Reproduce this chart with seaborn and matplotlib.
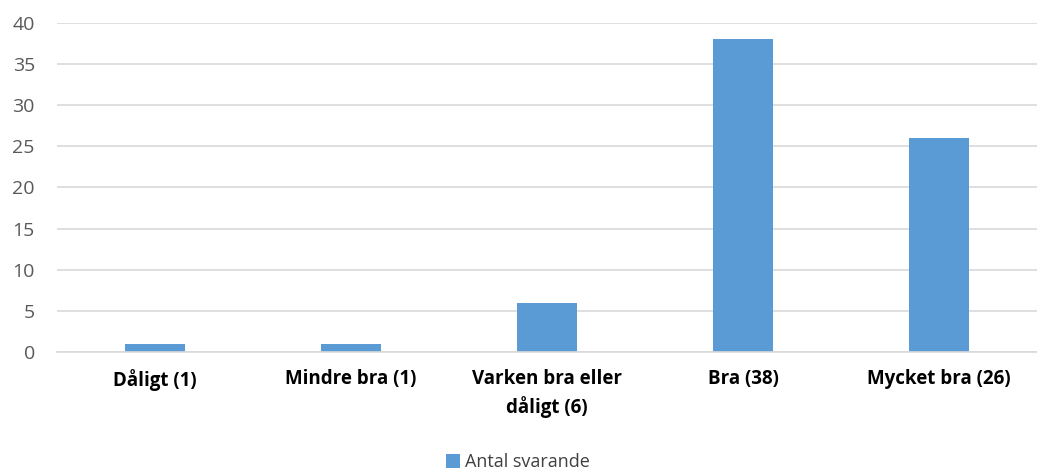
import matplotlib
matplotlib.use('Agg')
import matplotlib.pyplot as plt
import seaborn as sb
import pandas as pd

categories = ["Dåligt (1)", "Mindre bra (1)", "Varken bra eller\ndåligt (6)", "Bra (38)", "Mycket bra (26)"]
values = [1, 1, 6, 38, 26]
series = "Antal svarande"

sb.set_style("white")
plt.rcParams['font.family'] = ['Open Sans', 'DejaVu Sans']

df = pd.DataFrame({"kategori": categories, "antal": values, "serie": series})

fig = plt.figure(figsize=(10.37, 4.75), dpi=100)
ax = fig.add_axes([0.055, 0.259, 0.945, 0.693])
sb.barplot(data=df, x="kategori", y="antal", hue="serie", palette=["#5B9BD5"],
           saturation=1, width=0.31, linewidth=0, ax=ax, legend=True)

ax.set_ylim(0, 40)
ax.set_yticks(range(0, 41, 5))
ax.yaxis.grid(True, color="#D9D9D9", linewidth=1.2)
ax.set_axisbelow(True)
ax.set_xlabel("")
ax.set_ylabel("")
for s in ["top", "right", "left"]:
    ax.spines[s].set_visible(False)
ax.spines["bottom"].set_color("#D9D9D9")
ax.spines["bottom"].set_linewidth(1.2)
ax.tick_params(axis="y", length=0, labelsize=14, labelcolor="#595959", pad=16)
ax.tick_params(axis="x", length=0, labelsize=13.5, pad=12)
for lab in ax.get_xticklabels():
    lab.set_fontweight("bold")
    lab.set_color("black")
    lab.set_linespacing(1.45)

ax.legend(loc="lower center", bbox_to_anchor=(0.47, -0.385), frameon=False,
          fontsize=13, handlelength=0.8, handleheight=0.8, handletextpad=0.25,
          borderaxespad=0, labelcolor="#404040")

plt.savefig("out.png", dpi=100)
plt.close()
